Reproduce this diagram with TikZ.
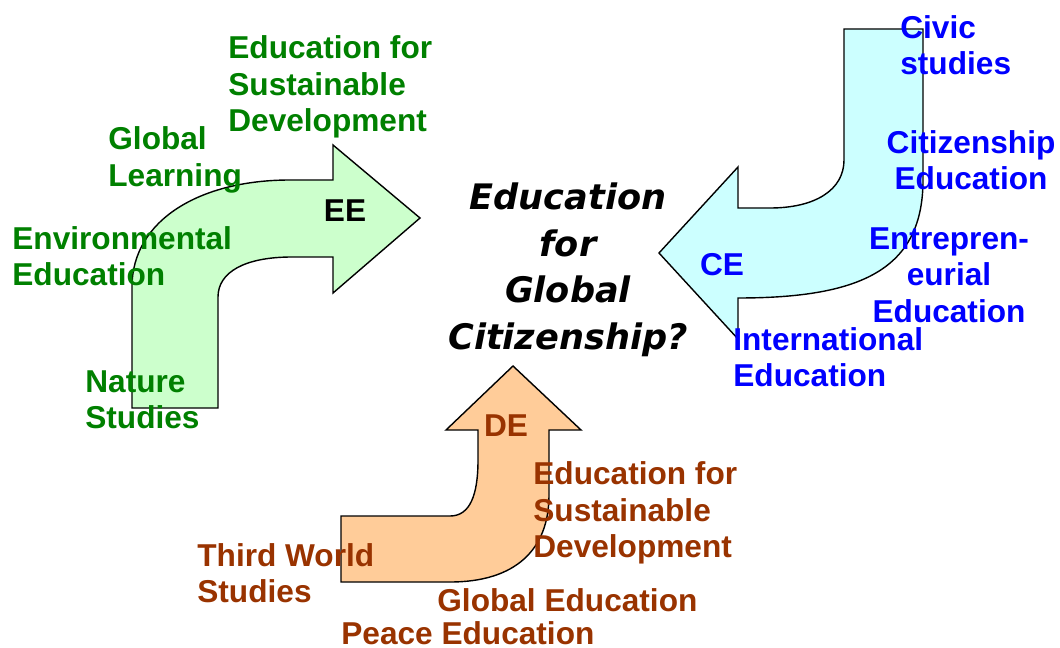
\documentclass[tikz,border=0pt]{standalone}
\usepackage{fontspec}
\setmainfont{Liberation Sans}
\newfontfamily\headfont{DejaVu Sans}
\usepackage{tikz}
\usetikzlibrary{positioning}
\usepackage{xcolor}
\definecolor{eegreen}{RGB}{0,128,0}
\definecolor{ceblue}{RGB}{0,0,255}
\definecolor{debrown}{RGB}{153,51,0}
\definecolor{eefill}{RGB}{204,255,204}
\definecolor{cefill}{RGB}{204,255,255}
\definecolor{defill}{RGB}{255,204,153}
\tikzset{%
	bent arrow/.style={
		draw=black,
		line width=0.8pt,
		line join=miter
	},
	topic/.style={
		inner sep=0pt,
		font=\fontsize{18}{20.7}\selectfont\bfseries
	},
	ee topic/.style={topic, text=eegreen, align=left, anchor=west},
	ce topic/.style={topic, text=ceblue},
	de topic/.style={topic, text=debrown, align=left, anchor=west},
}

\begin{document}
\begin{tikzpicture}[x=0.02cm, y=-0.02cm]
			\useasboundingbox (0,0) rectangle (1060,648);
			
			% the three bent arrows
			\draw[bent arrow, fill=eefill] (132,408) -- (132,287) .. controls (132,220) and (200,180) .. (290,180) -- (333,180) -- (333,145) -- (420,218) -- (333,293) -- (333,257) -- (292,257) .. controls (245,257) and (218,272) .. (218,297) -- (218,408) -- cycle;
			\draw[bent arrow, fill=cefill] (844,29) -- (923,29) -- (923,180) .. controls (923,270) and (860,298) .. (738,298) -- (738,339) -- (659,253) -- (738,167) -- (738,208) -- (770,208) .. controls (815,208) and (844,190) .. (844,160) -- cycle;
			\draw[bent arrow, fill=defill] (341,516) -- (450,516) .. controls (470,516) and (478,495) .. (478,460) -- (478,430) -- (446,430) -- (513,366) -- (581,430) -- (549,430) -- (549,495) .. controls (549,550) and (515,582) .. (450,582) -- (341,582) -- cycle;
			
			\node[topic] (ee) at (345,211) {EE};
			\node[topic, text=ceblue] (ce) at (722,265) {CE};
			\node[topic, text=debrown] (de) at (506,426) {DE};
			
			\node[align=center, inner sep=0pt, font=\headfont\bfseries\itshape\fontsize{20}{26.5}\selectfont] (egc) at (568,270) {Education\\for\\Global\\Citizenship?};
			
			\node[ee topic] (esdgreen) at (228,87) {Education for\\Sustainable\\Development};
			\node[ee topic] (global) at (108,160) {Global\\Learning};
			\node[ee topic] (environ) at (12,256) {Environmental\\Education};
			\node[ee topic] (nature) at (85,400) {Nature\\Studies};
			
			\node[ce topic, align=left, anchor=west] (civic) at (900,45) {Civic\\studies};
			\node[ce topic, align=center] (citizen) at (971,160) {Citizenship\\Education};
			\node[ce topic, align=center] (entre) at (949,275) {Entrepren-\\eurial\\Education};
			\node[ce topic, align=left, anchor=west] (intl) at (733,357) {International\\Education};
			
			\node[de topic] (esdbrown) at (533,513) {Education for\\Sustainable\\Development};
			\node[de topic] (third) at (197,573) {Third World\\Studies};
			\node[de topic] (globaled) at (437,600) {Global Education};
			\node[de topic] (peace) at (341,633) {Peace Education};
			
		\end{tikzpicture}
\end{document}
